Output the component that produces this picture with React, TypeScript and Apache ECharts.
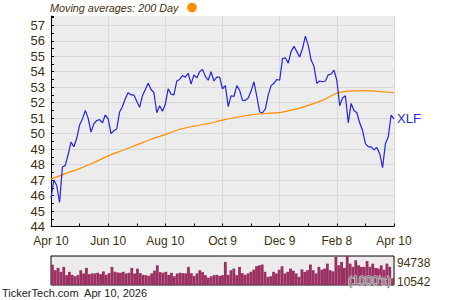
import React, { useEffect, useRef } from 'react';
import * as echarts from 'echarts';

const tickLabels = ['Apr 10', 'Jun 10', 'Aug 10', 'Oct 9', 'Dec 9', 'Feb 8', 'Apr 10'];

const priceValues = [
  45.85, 47.0, 46.65, 45.55, 47.85, 47.95, 48.65, 49.45, 49.15, 49.7,
  50.55, 50.95, 51.5, 51.0, 50.1, 50.65, 50.85, 50.9, 50.7, 51.2,
  50.95, 50.0, 50.2, 50.3, 51.4, 51.75, 52.25, 52.65, 52.5, 52.5,
  52.1, 51.7, 52.45, 52.85, 53.25, 52.85, 52.65, 51.35, 51.8, 51.45,
  51.9, 52.9, 52.55, 52.5, 53.4, 53.5, 53.75, 53.65, 53.9, 53.2,
  53.8, 53.6, 54.0, 54.15, 53.7, 53.45, 54.0, 53.4, 53.65, 53.65,
  52.9, 53.1, 51.75, 52.45, 52.4, 53.1, 52.8, 52.15, 52.15, 52.3,
  52.75, 53.35, 52.4, 51.4, 51.35, 51.6, 52.5, 53.1, 53.25, 53.5,
  53.45, 54.85, 54.9, 54.55, 55.3, 55.65, 55.3, 54.95, 55.5, 56.3,
  55.7, 54.75, 54.35, 53.25, 53.4, 53.35, 53.4, 53.8, 53.85, 54.1,
  53.45, 51.8, 52.3, 52.45, 50.7, 51.95, 51.5, 51.35, 50.7, 50.2,
  49.35, 49.15, 49.15, 48.95, 49.1, 48.7, 47.8, 49.35, 49.8, 51.2,
  50.95,
];

const maStep = 5;
const maValues = [
  47.06, 47.42, 47.74, 48.13, 48.56, 48.91, 49.27, 49.64, 49.94,
  50.28, 50.48, 50.65, 50.87, 51.06, 51.21, 51.3, 51.36,
  51.55, 51.83, 52.15, 52.61, 52.76, 52.78, 52.72, 52.65,
];

const volumeValues = [
  69500, 53500, 60200, 48800, 63200, 39200, 48800, 40000, 36000, 39200,
  53500, 44200, 60200, 42000, 44200, 44200, 46000, 42000, 50000, 40000,
  45000, 63000, 49000, 47000, 46000, 48800, 44000, 46000, 60200, 44000,
  58000, 45000, 40000, 39200, 37000, 44200, 52000, 67800, 48000, 46000,
  48800, 40000, 46000, 36000, 44000, 46000, 45000, 44200, 63200, 45000,
  37000, 44200, 53500, 48000, 39000, 31600, 36000, 39200, 40000, 37000,
  39200, 77500, 40000, 53500, 58300, 39200, 63200, 45000, 40000, 44200,
  48800, 55000, 65000, 67800, 70000, 48800, 34300, 36000, 48800, 44200,
  55000, 65000, 44200, 48800, 58300, 52000, 44200, 34300, 56000, 48800,
  53500, 70000, 53500, 44200, 63200, 55000, 58300, 72600, 53500, 50000,
  92000, 67800, 77500, 60000, 94738, 72600, 63200, 82400, 67800, 63200,
  63200, 80000, 63200, 72600, 60000, 58300, 67800, 55000, 72600, 63200,
  30000,
];

const volMax = 94738;
const volMin = 10542;
const yMin = 44;
const yMax = 57.6;
const seriesName = 'XLF';
const legendText = 'Moving averages: 200 Day';
const footerText = 'TickerTech.com  Apr 10, 2026';

export default function App() {
  const ref = useRef<HTMLDivElement>(null);
  useEffect(() => {
    const chart = echarts.init(ref.current!, null, { renderer: 'svg' });
    const font = '"Liberation Sans", Arial, sans-serif';
    const labelColor = '#40300f';
    const isInt = (v: number) => Math.abs(v - Math.round(v)) < 1e-6;
    chart.setOption({
      animation: false,
      textStyle: { fontFamily: font },
      grid: [
        { left: 51, top: 16, width: 343, height: 210.5, show: true, backgroundColor: '#ececec', borderWidth: 0 },
        { left: 51, top: 256, width: 343, height: 29, show: true, backgroundColor: '#ececec', borderColor: '#000', borderWidth: 1 },
      ],
      xAxis: [
        {
          type: 'value', gridIndex: 0, min: 0, max: 120, interval: 10,
          axisLine: { show: true, lineStyle: { color: '#000', width: 1 } },
          axisTick: { show: true, inside: true, length: 3, lineStyle: { color: '#000' } },
          axisLabel: {
            color: labelColor, fontSize: 12, fontFamily: font, margin: 8,
            formatter: (v: number) => (Math.round(v) % 20 === 0 ? tickLabels[Math.round(v) / 20] : ''),
          },
          splitLine: { show: true, lineStyle: { color: ['#d9d9d9', 'rgba(0,0,0,0)'], width: 1 } },
        },
        {
          type: 'category', gridIndex: 1, data: volumeValues.map((_, i) => i), boundaryGap: true,
          axisLine: { show: false }, axisTick: { show: false }, axisLabel: { show: false }, splitLine: { show: false },
        },
      ],
      yAxis: [
        {
          type: 'value', gridIndex: 0, min: yMin, max: yMax, interval: 0.5,
          axisLine: { show: true, lineStyle: { color: '#000', width: 1 } },
          axisTick: { show: true, inside: true, length: 3, lineStyle: { color: '#000' } },
          axisLabel: {
            color: labelColor, fontSize: 13, fontFamily: font, margin: 6,
            formatter: (v: number) => (isInt(v) ? String(Math.round(v)) : ''),
          },
          splitLine: { show: true, showMaxLine: false, lineStyle: { color: ['#d9d9d9', 'rgba(0,0,0,0)'], width: 1 } },
        },
        {
          type: 'value', gridIndex: 1, min: volMin, max: volMax,
          axisLine: { show: false }, axisTick: { show: false }, axisLabel: { show: false }, splitLine: { show: false },
        },
      ],
      series: [
        {
          type: 'line', name: 'MA', xAxisIndex: 0, yAxisIndex: 0, z: 2,
          data: maValues.map((v, i) => [i * maStep, v]),
          showSymbol: false, smooth: 0.3,
          lineStyle: { color: '#ff8c00', width: 1.2 },
        },
        {
          type: 'line', name: seriesName, xAxisIndex: 0, yAxisIndex: 0, z: 3,
          data: priceValues.map((v, i) => [i, v]),
          showSymbol: false,
          lineStyle: { color: '#2323e0', width: 1.2 },
          endLabel: { show: true, formatter: seriesName, color: '#2a2ae0', fontSize: 13, fontFamily: font, distance: 3 },
        },
        {
          type: 'bar', name: 'Volume', xAxisIndex: 1, yAxisIndex: 1,
          data: volumeValues, barWidth: '100%',
          itemStyle: { color: '#9b3163' },
        },
      ],
      graphic: [
        { type: 'text', x: 50, y: 8, style: { text: legendText, fill: labelColor, font: `italic 10.8px ${font}`, verticalAlign: 'middle' } },
        { type: 'circle', shape: { cx: 192, cy: 7.5, r: 4.8 }, style: { fill: '#ff8c00' } },
        { type: 'text', x: 397, y: 263, style: { text: String(volMax), fill: labelColor, font: `12px ${font}`, verticalAlign: 'middle' } },
        { type: 'text', x: 397, y: 282, style: { text: String(volMin), fill: labelColor, font: `12px ${font}`, verticalAlign: 'middle' } },
        { type: 'text', x: 391, y: 280.5, z: 10, style: { text: "(1000's)", fill: '#707070', stroke: '#e0e0e0', lineWidth: 1, font: `12px ${font}`, align: 'right', verticalAlign: 'middle' } },
        { type: 'text', x: 2, y: 293, style: { text: footerText, fill: '#222', font: `11px ${font}`, verticalAlign: 'middle' } },
      ],
    });
    return () => chart.dispose();
  }, []);
  return <div ref={ref} style={{ position: 'absolute', left: 0, top: 0, width: 450, height: 300 }} />;
}
